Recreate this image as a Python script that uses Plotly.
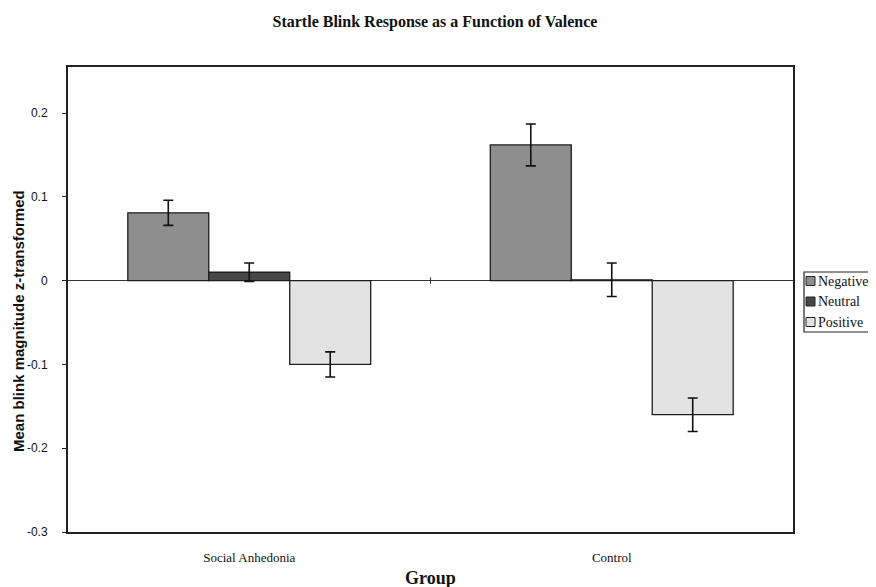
import plotly.graph_objects as go

groups = ["Social Anhedonia", "Control"]
valences = ["Negative", "Neutral", "Positive"]
negative_vals = [0.081, 0.162]
neutral_vals = [0.010, 0.001]
positive_vals = [-0.100, -0.160]
negative_err = [0.015, 0.025]
neutral_err = [0.011, 0.020]
positive_err = [0.015, 0.020]
ytick_vals = [0.2, 0.1, 0.0, -0.1, -0.2, -0.3]
ytick_text = ["0.2", "0.1", "0", "-0.1", "-0.2", "-0.3"]

colors = {"Negative": "#8e8e8e", "Neutral": "#474747", "Positive": "#e3e3e3"}
series = {"Negative": (negative_vals, negative_err),
          "Neutral": (neutral_vals, neutral_err),
          "Positive": (positive_vals, positive_err)}

fig = go.Figure()
for name in valences:
    vals, err = series[name]
    fig.add_trace(go.Bar(
        x=groups, y=vals, name=name, showlegend=False,
        marker=dict(color=colors[name], line=dict(color="#1e1e1e", width=1.3)),
        error_y=dict(type="data", array=err, visible=True, color="#111111",
                     thickness=1.6, width=5),
    ))

serif = "Liberation Serif"
sans = "Liberation Sans"

# page has an 8px body margin, so the figure is sized to fit the window
W, H = 868, 579
L, R, T, B = 60, 83, 59, 55
PW, PH = W - L - R, H - T - B


def px(fx):
    return (fx - L) / PW


def py(fy):
    return (H - B - fy) / PH


fig.update_layout(
    width=W, height=H,
    margin=dict(l=L, r=R, t=T, b=B, autoexpand=False),
    paper_bgcolor="white", plot_bgcolor="white",
    barmode="group", bargap=0.33, bargroupgap=0,
    showlegend=False,
    title=dict(text="<b>Startle Blink Response as a Function of Valence</b>",
               x=px(427), xanchor="center", xref="paper",
               y=1 - 13 / H, yanchor="middle", yref="container",
               font=dict(family=serif, size=16, color="#111")),
    xaxis=dict(showline=True, linecolor="#222", linewidth=2, mirror=True,
               automargin=False,
               ticks="", ticklabelstandoff=12,
               tickfont=dict(family=serif, size=13, color="#111"),
               showgrid=False),
    yaxis=dict(range=[-0.3, 0.255], showline=True, linecolor="#222", linewidth=2,
               mirror=True, zeroline=True, zerolinecolor="#333", zerolinewidth=1,
               automargin=False,
               showgrid=False, tickvals=ytick_vals, ticktext=ytick_text,
               ticks="outside", ticklen=4, tickcolor="#222",
               ticklabelstandoff=12,
               tickfont=dict(family=sans, size=12, color="#111")),
)

# axis titles
fig.add_annotation(text="<b>Mean blink magnitude z-transformed</b>", textangle=-90,
                   xref="paper", yref="paper", x=px(10), y=py(313),
                   xanchor="center", yanchor="middle", showarrow=False,
                   font=dict(family=sans, size=15, color="#111"))
fig.add_annotation(text="<b>Group</b>", xref="paper", yref="paper",
                   x=px(422), y=py(570), xanchor="center", yanchor="middle",
                   showarrow=False, font=dict(family=serif, size=18, color="#111"))

# legend (compact, drawn with shapes + text)
fig.add_shape(type="rect", xref="paper", yref="paper",
              x0=px(796), x1=px(W + 5), y0=py(324), y1=py(264),
              line=dict(color="#222", width=1.2), fillcolor="white", layer="above")
for i, name in enumerate(valences):
    cy = 273 + i * 20.5
    fig.add_shape(type="rect", xref="paper", yref="paper",
                  x0=px(798), x1=px(807), y0=py(cy + 4.5), y1=py(cy - 4.5),
                  line=dict(color="#222", width=1), fillcolor=colors[name], layer="above")
    fig.add_annotation(text=name, xref="paper", yref="paper", x=px(808), y=py(cy),
                       xanchor="left", yanchor="middle", showarrow=False,
                       font=dict(family=serif, size=14, color="#111"))

# small tick on the zero line between the two groups
fig.add_shape(type="line", xref="x", yref="y", x0=0.5, x1=0.5, y0=-0.004, y1=0.004,
              line=dict(color="#333", width=1))

fig.write_html("out.html")
